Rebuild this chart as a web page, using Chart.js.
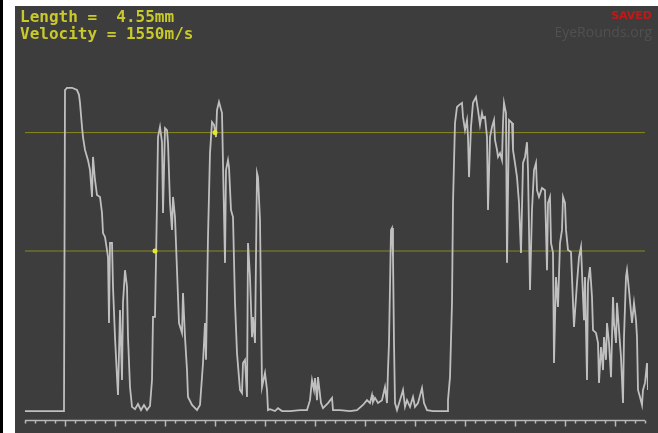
<!DOCTYPE html>
<html>
<head>
<meta charset="utf-8">
<script src="https://cdn.jsdelivr.net/npm/chart.js@4"></script>
<style>
  html, body { margin: 0; padding: 0; background: #fff; }
  #wrap { position: relative; width: 658px; height: 433px; overflow: hidden; background: #fff; }
  #edge { position: absolute; left: 0; top: 0; width: 3px; height: 433px; background: #000; }
  #panel { position: absolute; left: 15px; top: 6px; width: 643px; height: 427px; background: #3d3d3d; }
  #panel canvas { position: absolute; left: 0; top: 0; }
  .info { position: absolute; left: 5px; top: 2px; font: bold 16px "DejaVu Sans Mono", monospace; line-height: 17px; color: #c9c92a; white-space: pre; }
  .saved { position: absolute; right: 6px; top: 3px; font: bold 11px "DejaVu Sans", sans-serif; color: #c41818; }
  .brand { position: absolute; right: 6px; top: 16px; font: 14px "Open Sans", sans-serif; color: #505050; }
</style>
</head>
<body>
<div id="wrap">
  <div id="edge"></div>
  <div id="panel">
    <canvas id="c" width="643" height="427"></canvas>
    <div class="info">Length =  4.55mm
Velocity = 1550m/s</div>
    <div class="saved">SAVED</div>
    <div class="brand">EyeRounds.org</div>
  </div>
</div>
<script>
// A-scan trace: depth (in tick units) and echo amplitude (%)
const depth = [
  -4.0, -0.1, 0.0, 0.2, 0.7, 1.2, 1.4, 1.5, 1.7, 1.8, 2.0, 2.3, 2.5, 2.7, 2.8, 3.0, 3.2, 3.5, 3.7, 3.8,
  4.0, 4.2, 4.3, 4.4, 4.5, 4.7, 4.8, 5.0, 5.2, 5.3, 5.5, 5.7, 5.8, 6.0, 6.2, 6.3, 6.5, 6.7, 7.0, 7.3,
  7.6, 7.9, 8.2, 8.5, 8.7, 8.8, 9.0, 9.2, 9.3, 9.5, 9.7, 9.8, 10.0, 10.2, 10.3, 10.5, 10.7, 10.8, 11.0, 11.2,
  11.4, 11.7, 11.8, 12.0, 12.2, 12.3, 12.7, 13.2, 13.5, 13.8, 14.0, 14.1, 14.3, 14.5, 14.7, 14.9, 15.1, 15.2, 15.4, 15.7,
  15.8, 16.0, 16.1, 16.3, 16.4, 16.6, 16.8, 17.0, 17.2, 17.5, 17.7, 17.8, 18.0, 18.2, 18.3, 18.5, 18.7, 18.8, 19.0, 19.2,
  19.3, 19.5, 19.7, 20.0, 20.2, 20.3, 20.5, 21.0, 21.3, 21.7, 22.5, 23.5, 24.2, 24.5, 24.7, 24.9, 25.0, 25.2, 25.3, 25.6,
  25.8, 26.3, 26.7, 26.8, 27.5, 28.5, 29.2, 29.8, 30.2, 30.5, 30.7, 30.8, 31.0, 31.3, 31.7, 32.0, 32.2, 32.3, 32.4, 32.6,
  32.7, 32.8, 32.9, 33.0, 33.2, 33.5, 33.8, 34.0, 34.2, 34.5, 34.8, 35.0, 35.3, 35.7, 35.9, 36.2, 36.8, 38.2, 38.3, 38.5,
  38.7, 38.8, 39.0, 39.2, 39.4, 39.7, 39.8, 40.0, 40.2, 40.3, 40.4, 40.6, 40.8, 41.1, 41.3, 41.5, 41.7, 41.8, 42.0, 42.2,
  42.3, 42.5, 42.7, 42.9, 43.0, 43.2, 43.3, 43.5, 43.7, 43.8, 43.9, 44.1, 44.2, 44.4, 44.7, 44.8, 45.0, 45.2, 45.4, 45.6,
  45.8, 46.0, 46.2, 46.3, 46.5, 46.7, 46.9, 47.1, 47.2, 47.4, 47.7, 48.0, 48.2, 48.3, 48.5, 48.6, 48.8, 48.9, 49.1, 49.3,
  49.5, 49.7, 49.8, 50.0, 50.1, 50.3, 50.6, 50.8, 50.9, 51.2, 51.4, 51.6, 51.8, 51.9, 52.0, 52.2, 52.3, 52.5, 52.7, 52.8,
  53.1, 53.3, 53.4, 53.6, 53.8, 53.9, 54.1, 54.2, 54.4, 54.6, 54.8, 54.9, 55.1, 55.2, 55.4, 55.6, 55.8, 55.9, 56.1, 56.2,
  56.4, 56.7, 56.9, 57.1, 57.2, 57.3, 57.5, 57.7, 57.8, 58.0, 58.2, 58.3
];
const amplitude = [
  0, 0, 100.3, 101, 101, 100.3, 98.8, 96.3, 88.8, 85.6, 81.6, 78.4, 75.3, 66.9, 79.4, 72.2, 67.5, 66.9, 61.9, 55.6,
  54.4, 50.3, 48.1, 27.5, 52.5, 52.5, 38.8, 23.1, 10.6, 5.0, 31.6, 9.7, 33.8, 44.0, 38.8, 23.1, 7.5, 1.3, 0.6, 2.2,
  0.3, 1.9, 0.3, 1.6, 9.7, 29.4, 29.4, 65.0, 85.6, 88.8, 84.0, 61.9, 88.4, 87.8, 83.8, 65.0, 56.6, 66.9, 60.6, 44.0,
  27.5, 24.4, 36.9, 23.1, 12.8, 4.4, 1.9, 0.3, 1.9, 15.0, 27.5, 16.0, 54.4, 80.6, 90.3, 89.4, 85.6, 94.0, 96.6, 93.1,
  77.5, 46.3, 75.3, 78.4, 76.2, 62.8, 60.6, 33.8, 18.1, 6.6, 5.6, 15.0, 16.0, 4.4, 52.5, 41.9, 23.1, 29.4, 21.3, 74.4,
  73.1, 59.7, 7.5, 11.9, 6.6, 0.3, 0.6, 0, 0.9, 0, 0, 0.3, 0.3, 3.4, 9.7, 6.6, 10.3, 3.4, 10.6, 2.5,
  0.9, 2.5, 4.1, 0.3, 0.3, 0, 0.3, 1.9, 3.4, 2.5, 5.0, 2.8, 4.1, 2.5, 3.4, 7.5, 2.5, 12.8, 21.3, 56.6,
  57.2, 48.1, 21.3, 2.5, 0.3, 3.4, 6.6, 1.3, 3.4, 1.3, 4.4, 1.3, 2.5, 7.2, 2.5, 0.3, 0, 0, 3.4, 10.6,
  33.8, 65.0, 90.0, 95.0, 95.6, 96.3, 91.9, 87.8, 90.9, 85.6, 73.1, 88.8, 96.3, 98.1, 94.0, 89.4, 93.1, 91.6, 91.9, 85.6,
  62.8, 85.6, 88.8, 90.9, 84.7, 81.6, 79.4, 80.6, 78.4, 90.0, 96.3, 93.1, 46.3, 90.9, 90.0, 81.6, 77.5, 73.1, 65.0, 49.4,
  77.5, 79.4, 84.0, 75.3, 37.8, 62.8, 75.3, 77.5, 69.0, 66.9, 69.7, 69.0, 44.0, 65.0, 66.9, 52.5, 49.4, 15.0, 41.9, 32.5,
  52.5, 56.6, 66.9, 65.0, 56.6, 50.3, 49.7, 33.8, 26.3, 40.0, 48.1, 51.3, 35.6, 28.4, 41.9, 9.7, 40.0, 45.0, 35.6, 25.3,
  24.4, 21.3, 8.8, 20.0, 12.8, 23.1, 16.0, 27.5, 21.3, 10.6, 35.6, 27.5, 21.3, 33.8, 25.3, 16.9, 2.5, 23.1, 41.9, 44.0,
  37.8, 27.5, 33.8, 28.4, 23.1, 6.6, 4.4, 1.9, 6.6, 8.8, 15.0, 6.6
];
// gate levels (%) and gate marker positions
const gateLevels = [87, 50];
const markerDepth = [15.0, 9.0];
const markerLevel = [87, 50];

const xMin = -4, xMax = 58.3, axisEnd = 58;

const trace = depth.map((d, i) => ({ x: d, y: amplitude[i] }));
const gateSets = gateLevels.map(g => ({
  data: [{ x: xMin, y: g }, { x: axisEnd, y: g }],
  borderColor: '#8a8a22',
  borderWidth: 1,
  pointRadius: 0,
  order: 2
}));

const axisPlugin = {
  id: 'ascanAxis',
  afterDraw(chart) {
    const ctx = chart.ctx, xs = chart.scales.x, area = chart.chartArea;
    const y = area.bottom + 0.5;
    ctx.save();
    ctx.strokeStyle = '#b8b8b8';
    ctx.lineWidth = 1.5;
    ctx.beginPath();
    ctx.moveTo(xs.getPixelForValue(xMin), y);
    ctx.lineTo(xs.getPixelForValue(axisEnd), y);
    for (let v = xMin; v <= axisEnd; v++) {
      const px = Math.round(xs.getPixelForValue(v)) + 0.5;
      ctx.moveTo(px, y);
      ctx.lineTo(px, y + (v % 5 === 0 ? 6 : 3));
    }
    ctx.stroke();
    ctx.restore();
  }
};

new Chart(document.getElementById('c'), {
  type: 'line',
  data: {
    datasets: [
      {
        data: trace,
        borderColor: '#bfbfbf',
        borderWidth: 1.8,
        pointRadius: 0,
        tension: 0,
        order: 1
      },
      ...gateSets,
      {
        type: 'scatter',
        data: markerDepth.map((d, i) => ({ x: d, y: markerLevel[i] })),
        backgroundColor: '#e6e62a',
        borderWidth: 0,
        pointRadius: 2.5,
        order: 0
      }
    ]
  },
  options: {
    responsive: false,
    animation: false,
    layout: { padding: { left: 10, right: 10, top: 53, bottom: 13 } },
    plugins: { legend: { display: false }, tooltip: { enabled: false } },
    scales: {
      x: { type: 'linear', min: xMin, max: xMax, display: false },
      y: { min: -2.8, max: 110, display: false }
    }
  },
  plugins: [axisPlugin]
});
</script>
</body>
</html>
